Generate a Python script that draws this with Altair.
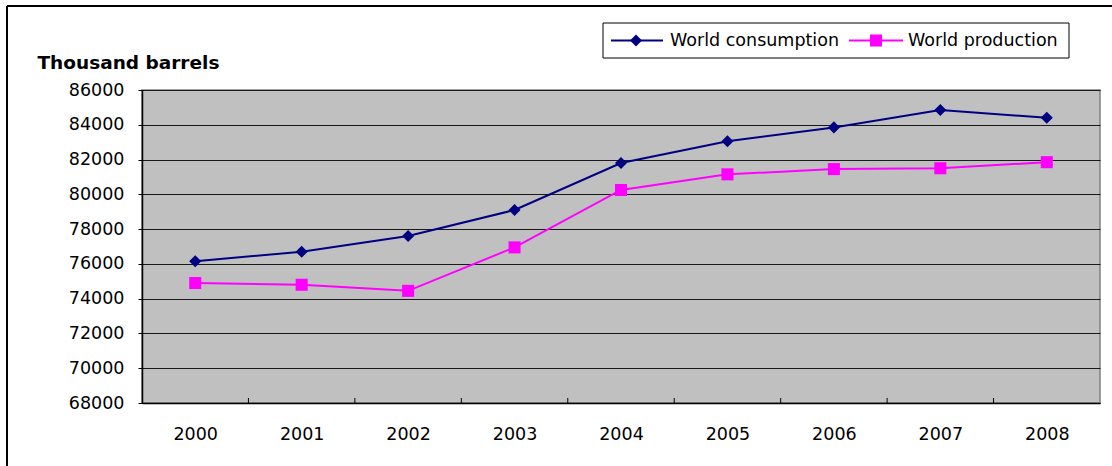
import altair as alt
import pandas as pd

# Annual world oil balance, thousand barrels per day
years = ["2000", "2001", "2002", "2003", "2004", "2005", "2006", "2007", "2008"]
consumption = [76150, 76700, 77600, 79100, 81800, 83050, 83850, 84850, 84400]
production = [74900, 74800, 74450, 76950, 80250, 81150, 81450, 81500, 81850]

series_names = ["World consumption", "World production"]
series_colors = ["#000080", "#FF00FF"]
series_shapes = ["diamond", "square"]
y_ticks = [68000, 70000, 72000, 74000, 76000, 78000, 80000, 82000, 84000, 86000]

df = pd.DataFrame({
    "year": years * 2,
    "value": consumption + production,
    "series": [series_names[0]] * len(years) + [series_names[1]] * len(years),
})
legend_df = pd.DataFrame({"series": series_names})
one = pd.DataFrame({"k": [0]})

W, H = 958, 313
FONT = "DejaVu Sans"
FS = 17.5

x = alt.X(
    "year:O",
    scale=alt.Scale(type="point", padding=0.5),
    axis=alt.Axis(
        title=None, labelAngle=0, ticks=False, grid=False, labelPadding=22,
        labelFontSize=FS, labelColor="black", domainColor="black", domainWidth=1.5,
    ),
)
y = alt.Y(
    "value:Q",
    scale=alt.Scale(domain=[68000, 86000], nice=False, zero=False),
    axis=alt.Axis(
        values=y_ticks, format="d", grid=True, gridColor="#1a1a1a", gridWidth=1,
        tickSize=4, tickColor="black", labelPadding=14, labelFontSize=FS,
        labelColor="black", domainColor="black", domainWidth=1.5,
        title="Thousand barrels", titleAngle=0, titleAlign="left",
        titleBaseline="middle", titleX=-105, titleY=-28, titleFontSize=18.5,
        titleFontWeight="bold", titleColor="black",
    ),
)
color = alt.Color("series:N", scale=alt.Scale(domain=series_names, range=series_colors), legend=None)
shape = alt.Shape("series:N", scale=alt.Scale(domain=series_names, range=series_shapes), legend=None)

lines = alt.Chart(df).mark_line(strokeWidth=2).encode(x=x, y=y, color=color)
points = alt.Chart(df).mark_point(filled=True, opacity=1, size=145).encode(
    x=x, y=y, color=color, shape=shape
)

# category boundary ticks, pointing up from the bottom axis
ticks = alt.Chart(pd.DataFrame({"year": years[:-1]})).mark_rule(
    xOffset=W / len(years) / 2, color="black", strokeWidth=1
).encode(x=x, y=alt.value(H - 5), y2=alt.value(H))

# legend box
box = alt.Chart(one).mark_rect(fill="white", stroke="black", strokeWidth=1).encode(
    x=alt.value(461), x2=alt.value(927), y=alt.value(-67), y2=alt.value(-32)
)

legend_layers = []
legend_pos = [(469, 521, 494, 528), (707, 761, 734, 766)]
LY = -49.5
for name, col, shp, (x0, x1, cx, tx) in zip(series_names, series_colors, series_shapes, legend_pos):
    base = alt.Chart(legend_df).transform_filter(alt.datum.series == name)
    legend_layers.append(
        base.mark_rule(strokeWidth=2, color=col).encode(
            x=alt.value(x0), x2=alt.value(x1), y=alt.value(LY)
        )
    )
    legend_layers.append(
        base.mark_point(filled=True, opacity=1, size=145, color=col, shape=shp).encode(
            x=alt.value(cx), y=alt.value(LY)
        )
    )
    legend_layers.append(
        base.mark_text(align="left", baseline="middle", fontSize=FS, font=FONT, color="black").encode(
            x=alt.value(tx), y=alt.value(LY), text="series:N"
        )
    )

# outer chart frame (top and left edges)
frame_top = alt.Chart(one).mark_rule(color="black", strokeWidth=2).encode(
    x=alt.value(-135), x2=alt.value(W + 20), y=alt.value(-84)
)
frame_left = alt.Chart(one).mark_rule(color="black", strokeWidth=2).encode(
    x=alt.value(-135), y=alt.value(-84), y2=alt.value(H + 80)
)

chart = alt.layer(
    lines, points, ticks, box, *legend_layers, frame_top, frame_left
).properties(
    width=W, height=H,
    padding={"left": 142, "top": 90, "right": 12, "bottom": 63},
    autosize=alt.AutoSizeParams(type="none"),
    background="white",
).configure_view(
    fill="#C0C0C0", stroke="#808080", strokeWidth=1.5
).configure_axis(
    labelFont=FONT, titleFont=FONT
)

chart.save("out.html", embed_options={"renderer": "svg", "actions": False})
